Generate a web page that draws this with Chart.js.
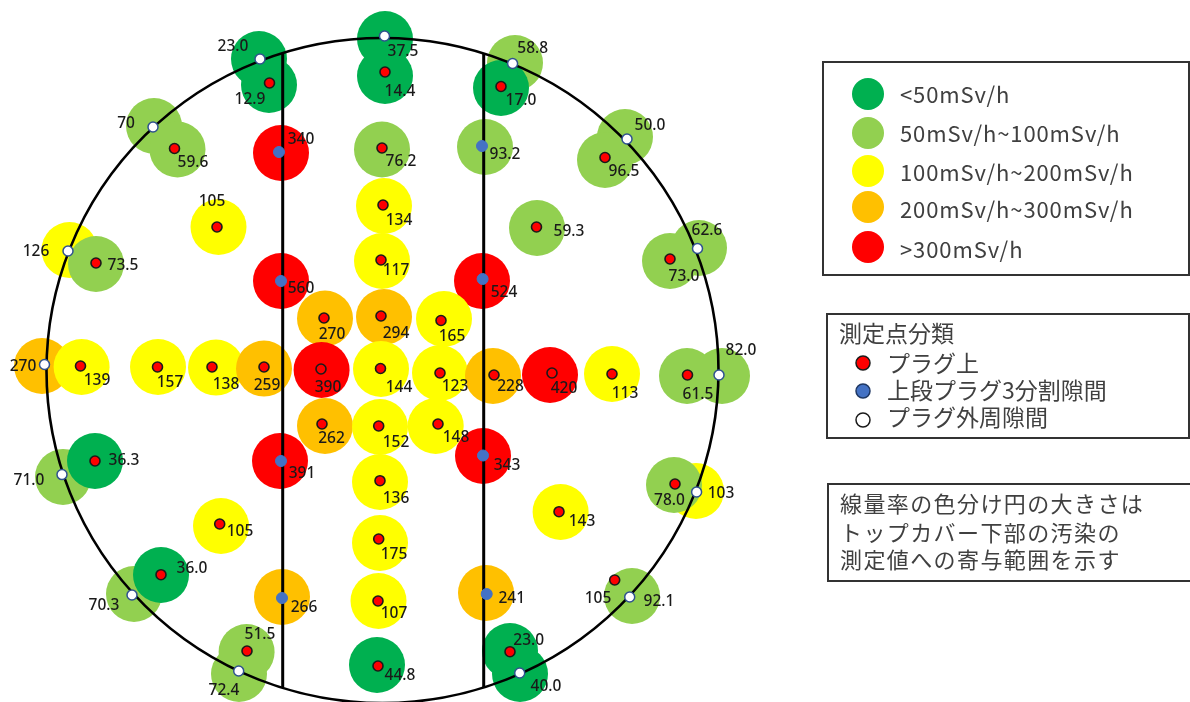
<!DOCTYPE html>
<html lang="ja">
<head>
<meta charset="utf-8">
<script src="https://cdn.jsdelivr.net/npm/chart.js@4"></script>
<style>
  html, body { margin: 0; padding: 0; background: #fff; }
  #wrap { position: relative; width: 1190px; height: 702px; overflow: hidden; }
  canvas { position: absolute; left: 0; top: 0; }
  .box { position: absolute; box-sizing: border-box; border: 2px solid #333; color: #404040;
         font-family: "Noto Sans CJK JP", "Noto Sans", sans-serif; white-space: nowrap; }
  .box div { position: absolute; line-height: 1; }
</style>
</head>
<body>
<div id="wrap">
  <canvas id="chart" width="1190" height="702"></canvas>
  <div class="box" style="left:822px;top:61px;width:368px;height:215px;font-size:22px;letter-spacing:0.9px">
    <div style="left:76px;top:19px">&lt;50mSv/h</div>
    <div style="left:76px;top:58px">50mSv/h~100mSv/h</div>
    <div style="left:76px;top:97px">100mSv/h~200mSv/h</div>
    <div style="left:76px;top:134px">200mSv/h~300mSv/h</div>
    <div style="left:76px;top:174px">&gt;300mSv/h</div>
  </div>
  <div class="box" style="left:826px;top:313px;width:364px;height:126px;font-size:23px">
    <div style="left:11px;top:6px">測定点分類</div>
    <div style="left:59px;top:36px">プラグ上</div>
    <div style="left:59px;top:63px">上段プラグ3分割隙間</div>
    <div style="left:59px;top:90px">プラグ外周隙間</div>
  </div>
  <div class="box" style="left:827px;top:483px;width:365px;height:99px;font-size:22px;letter-spacing:1.4px">
    <div style="left:11px;top:6px">線量率の色分け円の大きさは</div>
    <div style="left:11px;top:35px">トップカバー下部の汚染の</div>
    <div style="left:11px;top:62px">測定値への寄与範囲を示す</div>
  </div>
</div>
<script>
// readings, listed in the order the circles overlap
const readings = ['23.0','12.9','37.5','14.4','70','59.6','340','76.2','105','134','126','73.5','560','117','270','294',
  '58.8','17.0','93.2','50.0','96.5','59.3','62.6','73.0','524','165','82.0','61.5',
  '270','139','157','138','259','390','144','262','152','71.0','36.3','391','136','105','175','70.3','36.0','266','107','72.4','51.5','44.8',
  '123','228','420','113','148','343','143','103','78.0','105','92.1','241','23.0','40.0'];
// 0 plug, 1 upper plug gap, 2 outer gap, 3 plug (outline only)
const kinds = [2,0,2,0,2,0,1,0,0,0,2,0,1,0,0,0,
  2,0,1,2,0,0,2,0,1,0,2,0,
  2,0,0,0,0,3,0,0,0,2,0,1,0,0,0,2,0,1,0,2,0,0,
  0,0,3,0,0,1,0,2,0,0,2,1,0,2];
const circleX = [259,269,385,385,154,177.5,281,382,218.5,384,69.5,96,281,382,325,384,
  515,501,485,625,605,537,699,670,482,444,722,687,
  42,81.6,158,216,264,321.6,381,325,380,63,95,280,380,221,380,134,161,282,378.5,239,246.6,377,
  440,493,550,612,435.7,483,560.6,696,674,null,632,486,510,520];
const circleY = [59,85,39,76,126,149.5,153,149.5,227,206,250,264,281,261,318.5,317,
  63,88,147,137,160,228,248,261,281,319,376,376,
  366,367,367,367.6,368.6,370,369,426,427,477,461,461,482,526,543,594,575,597,601,674,652,665,
  373,376,375,374,426,456,512,491,485,null,596,593,651,674];
const markX = [260,269.5,384.5,385,153,174.5,279,382,217,383,68,96,281,381,324,381,
  512.6,501,482,627,605,536.5,697.5,670,482.6,441,719,687.5,
  44.5,80.5,157.5,212,264,321,380.5,322,378.7,62,95,281,380,219.7,378.7,132,161,282,378,238.7,247,378,
  440,494,552,612,438,483,559,696.6,675,614.7,629.7,486.7,510,519.7];
const markY = [59,83,36,72,127,148.5,152,148,227,205,251,263,281,260,318,316,
  63.5,86.5,146,139,157.5,227,248.5,259,279,320.5,375,375,
  364.5,366,367,367,367,369,368.5,424,426,474.6,461,461,480.7,524,539,595,574.7,598,601,671,651,666,
  373,375,373,374,424,455.5,511.7,492,484,580,597,594,651.7,673];
const labelX = [233,250,403,400,126,193,301,401,212,399,36,123,301,396,332,396,
  532.7,521,505,650,624,569,707,684,504,452,741,698,
  23,97,170,226,267,328,399,331.5,396,29,124,302,396,240,394,104,192,304,394,224,260,400,
  455,510.5,564,625,456,507,582,721,669.5,598,659,511.7,528.7,546];
const labelY = [47,100,52,92,124,163,140,162,202,221,252,266,289,271,335,334,
  49,101,155,126,172,232,231,277,293,337,351,395,
  367,381,383,385,386,388,388,439,443,481,461,474,499,532,555,606,569,608,614,691,635,676,
  387,387,389,394,438,466,522,494,501,599,602,599,641,687];

const zoneLimits = [50, 100, 200, 300];
const zoneColors = ['#00b050', '#92d050', '#ffff00', '#ffc000', '#ff0000'];

const legendZoneX = [868, 868, 868, 868, 868];
const legendZoneY = [94, 133, 171, 207, 247];
const legendMarkX = [863, 863, 863];
const legendMarkY = [363, 391, 420];

const gapLineX = [282.7, 483.7];
const gapLineTop = 53;
const gapLineBottom = 687;

const vessel = { x: 382.5, y: 370.5, rx: 336, ry: 332.5 };

function zoneOf(reading) {
  const v = Number(reading);
  const i = zoneLimits.findIndex((lim) => v < lim);
  return i === -1 ? zoneLimits.length : i;
}

function marksOfKind(kind) {
  const out = [];
  kinds.forEach((k, i) => {
    if (k === kind) out.push({ x: markX[i], y: markY[i] });
  });
  return out;
}

const vesselOutline = {
  id: 'vesselOutline',
  beforeDatasetDraw(chart, args) {
    if (chart.data.datasets[args.index].label !== 'gap line 0') return;
    const { ctx, scales: { x, y } } = chart;
    ctx.save();
    ctx.beginPath();
    ctx.ellipse(
      x.getPixelForValue(vessel.x), y.getPixelForValue(vessel.y),
      x.getPixelForValue(vessel.x + vessel.rx) - x.getPixelForValue(vessel.x),
      y.getPixelForValue(vessel.y + vessel.ry) - y.getPixelForValue(vessel.y),
      0, 0, Math.PI * 2
    );
    ctx.lineWidth = 2.6;
    ctx.strokeStyle = '#000';
    ctx.stroke();
    ctx.restore();
  },
};

const readingLabels = {
  id: 'readingLabels',
  afterDraw(chart) {
    const { ctx, scales: { x, y } } = chart;
    ctx.save();
    ctx.font = '500 15.5px "Noto Sans"';
    ctx.fillStyle = '#1a1a1a';
    ctx.textAlign = 'center';
    ctx.textBaseline = 'middle';
    readings.forEach((text, i) => {
      ctx.fillText(text, x.getPixelForValue(labelX[i]), y.getPixelForValue(labelY[i]));
    });
    ctx.restore();
  },
};

const markStyle = (label, kind, fill, border, width, radius, order) => ({
  label,
  data: marksOfKind(kind),
  backgroundColor: fill,
  borderColor: border,
  borderWidth: width,
  pointRadius: radius,
  order,
});

const config = {
  type: 'scatter',
  data: {
    datasets: [
      markStyle('プラグ上', 0, '#ff0000', '#1a1a1a', 1.6, 5, 1),
      markStyle('上段プラグ3分割隙間', 1, '#4472c4', '#4472c4', 1, 5.5, 1),
      markStyle('プラグ外周隙間', 2, '#ffffff', '#2f528f', 1.5, 5, 1),
      markStyle('プラグ上 outline', 3, 'rgba(0,0,0,0)', '#1a1a1a', 1.6, 5, 1),
      {
        label: 'legend marks',
        data: legendMarkX.map((x, i) => ({ x, y: legendMarkY[i] })),
        backgroundColor: ['#ff0000', '#4472c4', '#ffffff'],
        borderColor: ['#1a1a1a', '#1f3864', '#1a1a1a'],
        borderWidth: 1.5,
        pointRadius: 7,
        order: 1,
      },
      ...gapLineX.map((x, i) => ({
        label: 'gap line ' + i,
        data: [{ x, y: gapLineTop }, { x, y: gapLineBottom }],
        showLine: true,
        borderColor: '#000',
        borderWidth: 3,
        pointRadius: 0,
        order: 2,
      })),
      {
        label: 'circles',
        data: circleX.map((x, i) => ({ x, y: circleY[i] })),
        backgroundColor: readings.map((r) => zoneColors[zoneOf(r)]),
        borderWidth: 0,
        pointRadius: 28,
        order: 3,
      },
      {
        label: 'legend circles',
        data: legendZoneX.map((x, i) => ({ x, y: legendZoneY[i] })),
        backgroundColor: zoneColors,
        borderWidth: 0,
        pointRadius: 16,
        order: 3,
      },
    ],
  },
  options: {
    responsive: false,
    animation: false,
    events: [],
    layout: { padding: 0, autoPadding: false },
    scales: {
      x: { type: 'linear', min: 0, max: 1190, display: false },
      y: { type: 'linear', min: 0, max: 702, reverse: true, display: false },
    },
    plugins: {
      legend: { display: false },
      tooltip: { enabled: false },
    },
  },
  plugins: [vesselOutline, readingLabels],
};

new Chart(document.getElementById('chart'), config);
</script>
</body>
</html>
